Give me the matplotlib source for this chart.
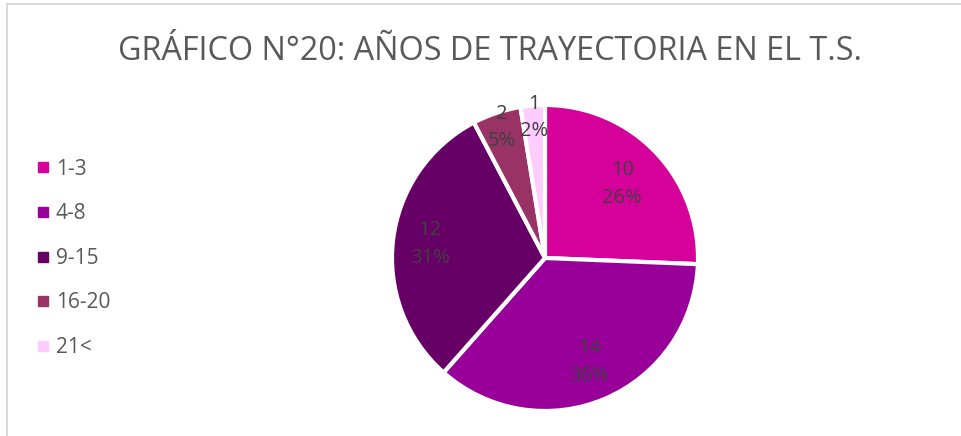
import matplotlib.pyplot as plt
import numpy as np
from matplotlib.lines import Line2D

# datos del grafico
categorias = ["1-3", "4-8", "9-15", "16-20", "21<"]
valores = [10, 14, 12, 2, 1]
porcentajes = ["26%", "36%", "31%", "5%", "2%"]
colores = ["#D6009A", "#990099", "#660066", "#993366", "#FFCCFF"]
titulo = "GRÁFICO N°20: AÑOS DE TRAYECTORIA EN EL T.S."

plt.rcParams['font.family'] = ['Open Sans', 'DejaVu Sans']

fig = plt.figure(figsize=(9.61, 4.36), dpi=100)

# borde del grafico (gris claro)
fig.add_artist(Line2D([7 / 961, 7 / 961], [0, 1 - 4 / 436], color="#D9D9D9", lw=1.5))
fig.add_artist(Line2D([7 / 961, 1], [1 - 4 / 436, 1 - 4 / 436], color="#D9D9D9", lw=1.5))

fig.text(490 / 961, 1 - 51 / 436, titulo, ha="center", va="center",
         fontsize=23.3, color="#595959")

# eje del pie
cx, cy, r = 545, 258, 153
ax = fig.add_axes([(cx - r) / 961, 1 - (cy + r) / 436, 2 * r / 961, 2 * r / 436])
wedges, _ = ax.pie(valores, colors=colores, startangle=90, counterclock=False,
                   wedgeprops=dict(edgecolor="white", linewidth=3))
ax.set_xlim(-1, 1)
ax.set_ylim(-1, 1)

# etiquetas dentro de cada porcion
distancias = [0.70, 0.74, 0.76, 0.90, 0.92]
for w, v, p, d in zip(wedges, valores, porcentajes, distancias):
    ang = np.deg2rad((w.theta1 + w.theta2) / 2)
    x, y = d * np.cos(ang), d * np.sin(ang)
    ax.text(x, y, f"{v}\n{p}", ha="center", va="center", fontsize=14.5,
            color="#404040", linespacing=1.5)

# leyenda
handles = [Line2D([], [], marker="s", linestyle="", markersize=7, color=c) for c in colores]
fig.legend(handles, categorias, loc="upper left", bbox_to_anchor=(14 / 961, 1 - 140 / 436),
           frameon=False, fontsize=15, labelcolor="#595959", labelspacing=1.13,
           handletextpad=0.1, handlelength=1.0)

plt.savefig("out.png", dpi=100)
